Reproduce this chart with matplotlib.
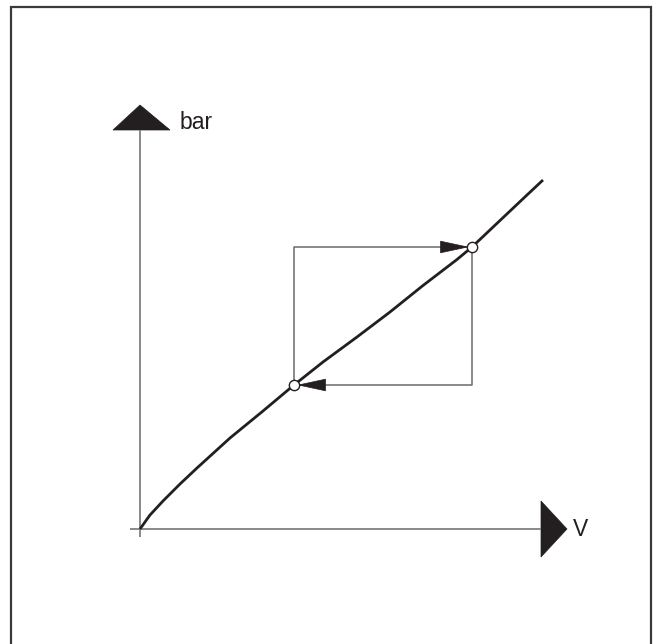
import matplotlib
matplotlib.use("Agg")
import matplotlib.pyplot as plt
from matplotlib.patches import Polygon, Rectangle
import numpy as np

# Curve (V vs bar) (arbitrary units, origin at axes cross)
curve_x = [0, 10, 23, 40, 57, 90, 123, 154, 183, 217, 250, 283, 317, 332, 360, 387, 403]
curve_y = [0, 14, 28, 45, 61, 91, 118, 144, 167, 192, 217, 243.5, 269.5, 282, 308.5, 334, 349]
# Operating points of the cycle
point_x = [154, 332]
point_y = [144, 282]
x_label = "V"
y_label = "bar"

ink = "#231f20"
grey = "#808080"
rect_grey = "#6a6a6a"

fig = plt.figure(figsize=(6.58, 6.44), dpi=100)
ax = fig.add_axes([0, 0, 1, 1])
ax.set_xlim(-140, 518)
ax.set_ylim(-115, 529)
ax.axis("off")

# frame
ax.add_patch(Rectangle((-129, -140), 640, 662, fill=False, edgecolor="#3a3a3a", lw=1.6))

# axes
x_end, y_end = 401, 399
ax.plot([-10, x_end], [0, 0], color=grey, lw=1.3, solid_capstyle="butt")
ax.plot([0, 0], [-8, y_end], color=grey, lw=1.3, solid_capstyle="butt")
# axis arrowheads
ax.add_patch(Polygon([[-27, y_end], [30, y_end], [0, y_end + 25]], closed=True,
                     facecolor=ink, edgecolor=ink, lw=0.5))
ax.add_patch(Polygon([[x_end, 28], [x_end, -28], [x_end + 26, 0]], closed=True,
                     facecolor=ink, edgecolor=ink, lw=0.5))
ax.text(x_end + 32, 0, x_label, fontsize=16.5, family="Liberation Sans",
        color=ink, va="center", ha="left")
ax.text(40, y_end + 1, y_label, fontsize=16.5, family="Liberation Sans",
        color=ink, va="baseline", ha="left")

# cycle rectangle
x0, x1 = point_x
y0, y1 = point_y
ax.plot([x0, x0, x1], [y0, y1, y1], color=rect_grey, lw=1.1)
ax.plot([x1, x1, x0], [y1, y0, y0], color=rect_grey, lw=1.1)
r = 4.5
L, hw = 27, 5.8
# right-pointing arrow on top edge
tip = x1 - r
ax.add_patch(Polygon([[tip - L, y1 + hw], [tip - L, y1 - hw], [tip, y1]], closed=True,
                     facecolor=ink, edgecolor=ink, lw=0.5, zorder=3))
# left-pointing arrow on bottom edge
tip = x0 + r
ax.add_patch(Polygon([[tip + L, y0 + hw], [tip + L, y0 - hw], [tip, y0]], closed=True,
                     facecolor=ink, edgecolor=ink, lw=0.5, zorder=3))

# characteristic curve
ax.plot(curve_x, curve_y, color=ink, lw=2.0, solid_capstyle="butt",
        solid_joinstyle="round", zorder=4)

# operating points
ax.scatter(point_x, point_y, s=55, facecolor="white", edgecolor=ink,
           linewidths=1.0, zorder=5)

fig.savefig("out.png", dpi=100)
